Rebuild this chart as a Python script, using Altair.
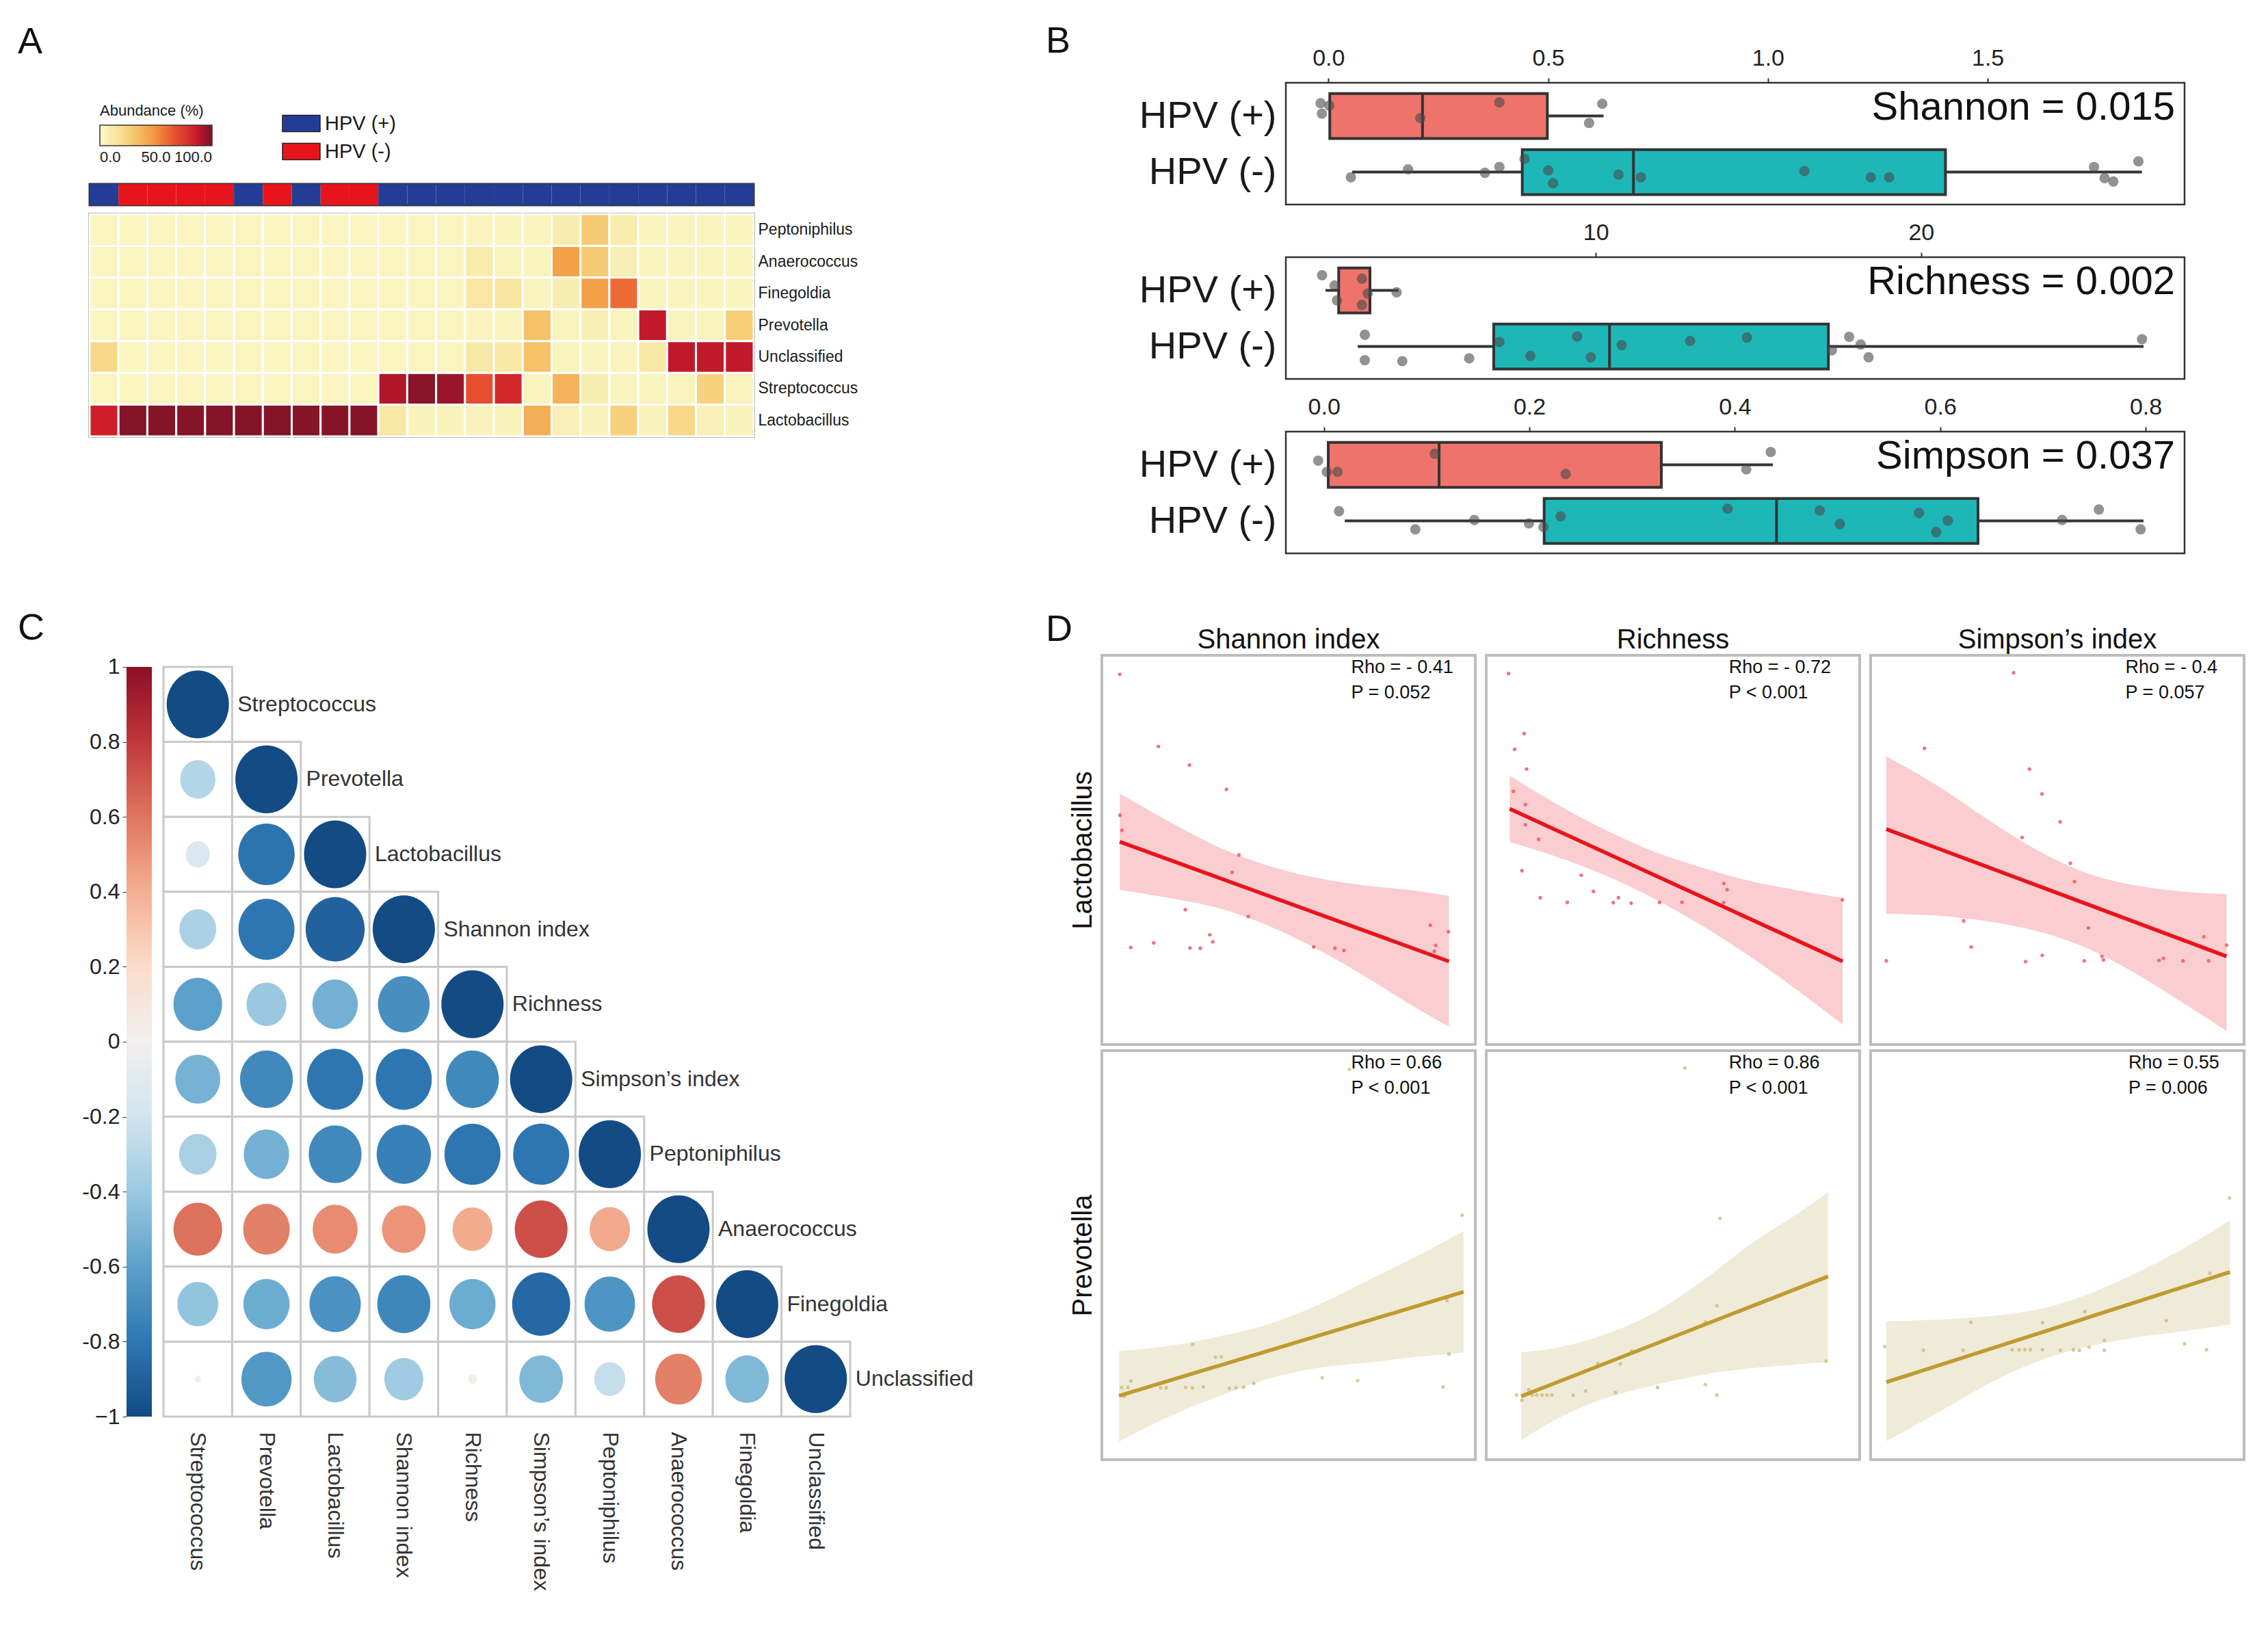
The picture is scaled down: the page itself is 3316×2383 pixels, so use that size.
import altair as alt
import pandas as pd

FONT = "Liberation Sans"
TXT = "#1a1a1a"

# ---------------- Panel A data ----------------
genera_A = ["Peptoniphilus", "Anaerococcus", "Finegoldia", "Prevotella",
            "Unclassified", "Streptococcus", "Lactobacillus"]
samples_A = ["S%02d" % (i + 1) for i in range(23)]
hpv_A = ["HPV (+)", "HPV (-)", "HPV (-)", "HPV (-)", "HPV (-)", "HPV (+)", "HPV (-)",
         "HPV (+)", "HPV (-)", "HPV (-)"] + ["HPV (+)"] * 13
pept_A = [3, 3, 3, 3, 3, 3, 3, 3, 3, 3, 3, 3, 3, 4, 4, 4, 9, 28, 9, 4, 4, 4, 4]
anaer_A = [3, 3, 3, 3, 3, 3, 3, 3, 3, 3, 3, 3, 3, 10, 4, 4, 45, 28, 7, 4, 4, 4, 4]
fine_A = [3, 3, 3, 3, 3, 3, 3, 3, 3, 3, 3, 3, 3, 13, 14, 4, 8, 45, 60, 4, 4, 4, 4]
prev_A = [3, 3, 3, 3, 3, 3, 3, 3, 3, 3, 3, 3, 3, 4, 4, 32, 4, 7, 4, 87, 4, 4, 27]
uncl_A = [22, 3, 3, 3, 3, 3, 3, 3, 3, 3, 3, 3, 3, 12, 12, 32, 4, 4, 4, 12, 87, 87, 87]
strep_A = [3, 3, 3, 3, 3, 3, 3, 3, 3, 3, 90, 97, 94, 68, 82, 4, 38, 8, 4, 4, 4, 25, 4]
lacto_A = [84, 98, 98, 98, 98, 98, 98, 98, 98, 98, 12, 5, 5, 5, 5, 40, 6, 5, 25, 5, 22, 6, 5]
abund_A = [pept_A, anaer_A, fine_A, prev_A, uncl_A, strep_A, lacto_A]

# ---------------- Panel B data ----------------
# stats: [lower whisker, q1, median, q3, upper whisker]
sh_pos_stats = [0.003, 0.003, 0.214, 0.498, 0.626]
sh_neg_stats = [0.054, 0.441, 0.694, 1.404, 1.851]
sh_pos_x = [-0.018, -0.015, 0.002, 0.209, 0.389, 0.593, 0.623]
sh_pos_j = [0.230, 0.044, 0.187, -0.037, 0.243, -0.124, 0.218]
sh_neg_x = [0.051, 0.181, 0.356, 0.389, 0.446, 0.500, 0.511, 0.660, 0.711, 1.083,
            1.234, 1.276, 1.742, 1.766, 1.786, 1.843]
sh_neg_j = [-0.093, 0.050, -0.012, 0.093, 0.236, 0.031, -0.199, -0.044, -0.093, 0.019,
            -0.093, -0.093, 0.093, -0.106, -0.168, 0.193]

ri_pos_stats = [1.689, 2.094, 3.055, 3.055, 3.932]
ri_neg_stats = [2.68, 6.86, 10.42, 17.15, 26.84]
ri_pos_x = [1.583, 1.968, 2.04, 2.809, 2.986, 2.809, 3.875]
ri_pos_j = [0.271, 0.088, -0.177, 0.210, -0.055, -0.259, -0.034]
ri_neg_x = [2.898, 2.898, 4.049, 6.106, 7.035, 7.987, 9.425, 9.845, 10.796, 12.898,
            14.646, 17.257, 17.788, 18.142, 18.385, 26.792]
ri_neg_j = [0.211, -0.243, -0.261, -0.211, 0.081, -0.168, 0.180, -0.193, 0.025, 0.100,
            0.162, -0.068, 0.174, 0.037, -0.193, 0.131]

si_pos_stats = [0.0042, 0.0042, 0.1121, 0.3285, 0.4371]
si_neg_stats = [0.0203, 0.2144, 0.4406, 0.6368, 0.7979]
si_pos_x = [-0.0056, 0.0028, 0.0133, 0.1079, 0.2354, 0.4112, 0.4350]
si_pos_j = [0.075, -0.124, -0.124, 0.199, -0.162, -0.081, 0.230]
si_neg_x = [0.0147, 0.0890, 0.1464, 0.1996, 0.2137, 0.2305, 0.3930, 0.4827, 0.5023,
            0.5793, 0.5961, 0.6074, 0.7187, 0.7545, 0.7951]
si_neg_j = [0.174, -0.149, 0.019, -0.044, -0.106, 0.081, 0.218, 0.187, -0.056, 0.143,
            -0.199, 0.006, 0.019, 0.205, -0.149]

# ---------------- Panel C data ----------------
vars_C = ["Streptococcus", "Prevotella", "Lactobacillus", "Shannon index", "Richness",
          "Simpson\u2019s index", "Peptoniphilus", "Anaerococcus", "Finegoldia", "Unclassified"]
corr_C = [
    [1],
    [0.32, 1],
    [0.15, 0.82, 1],
    [0.35, 0.81, 0.90, 1],
    [0.61, 0.41, 0.53, 0.69, 1],
    [0.52, 0.72, 0.81, 0.81, 0.72, 1],
    [0.36, 0.53, 0.72, 0.76, 0.81, 0.81, 1],
    [-0.61, -0.56, -0.52, -0.49, -0.41, -0.72, -0.42, 1],
    [0.43, 0.55, 0.68, 0.73, 0.55, 0.87, 0.66, -0.72, 1],
    [0.01, 0.65, 0.47, 0.39, -0.02, 0.49, 0.25, -0.56, 0.49, 1],
]
cbar_ticks = [-1, -0.8, -0.6, -0.4, -0.2, 0, 0.2, 0.4, 0.6, 0.8, 1]

# ---------------- Panel D data (relative units) ----------------
LS_x = [4.87, 15.4, 23.87, 33.93, 4.93, 5.47, 37.33, 35.47, 22.73, 39.87, 29.4, 30.2, 14.13,
        7.87, 24.0, 26.8, 57.67, 63.47, 65.93, 89.47, 94.4, 90.93, 90.53]
LS_y = [97.4, 78.4, 73.53, 67.13, 60.33, 56.33, 49.87, 45.27, 35.47, 33.67, 28.87, 27.0, 26.73,
        25.53, 25.4, 25.33, 25.67, 25.33, 24.73, 31.4, 29.67, 26.07, 24.53]
LS_bx = [4.87, 18.53, 31.87, 45.2, 58.53, 71.87, 85.2, 94.53]
LS_lo = [40.67, 38.53, 35.87, 31.33, 25.13, 17.8, 9.8, 4.67]
LS_hi = [66.0, 58.53, 51.87, 47.07, 43.8, 41.8, 40.47, 39.07]
LS_lx = [4.87, 94.53]
LS_ly = [53.33, 21.87]

LR_x = [6.07, 10.33, 7.73, 11.0, 7.4, 10.67, 10.67, 14.27, 9.73, 25.87, 29.2, 14.73, 22.07,
        34.6, 36.0, 39.47, 47.2, 53.33, 64.73, 65.6, 64.67, 97.0]
LR_y = [97.6, 81.8, 77.67, 72.47, 66.6, 63.13, 57.8, 54.0, 45.73, 44.53, 40.27, 38.6, 37.4,
        37.33, 38.6, 37.2, 37.4, 37.4, 42.4, 40.73, 37.33, 38.07]
LR_bx = [6.4, 18.53, 31.87, 45.2, 58.53, 71.87, 85.2, 97.07]
LR_lo = [53.27, 49.6, 44.73, 38.67, 31.4, 23.13, 13.93, 5.2]
LR_hi = [70.73, 63.6, 56.73, 50.93, 46.6, 43.0, 40.47, 38.53]
LR_lx = [6.4, 97.07]
LR_ly = [62.0, 21.87]

LP_x = [38.93, 14.67, 43.27, 46.67, 51.6, 41.27, 54.4, 55.53, 25.33, 59.33, 27.4, 4.27, 42.2,
        46.73, 58.2, 63.0, 63.4, 78.53, 79.73, 85.07, 90.73, 92.07, 96.93]
LP_y = [97.8, 77.93, 72.47, 65.93, 58.6, 54.47, 47.67, 42.87, 32.53, 30.67, 25.67, 22.0, 21.8,
        23.47, 22.0, 23.2, 22.27, 22.13, 22.67, 22.0, 28.33, 22.0, 26.13]
LP_bx = [4.27, 18.53, 31.87, 45.2, 58.53, 71.87, 85.2, 96.93]
LP_lo = [34.4, 33.87, 32.4, 29.87, 25.53, 18.87, 10.87, 3.53]
LP_hi = [75.87, 67.87, 59.2, 51.2, 45.2, 41.87, 40.2, 39.53]
LP_lx = [4.27, 96.93]
LP_ly = [56.67, 23.2]

PS_x = [67.4, 98.13, 94.0, 94.53, 24.73, 31.0, 32.53, 7.87, 5.4, 7.07, 6.07, 16.0, 17.53,
        22.8, 24.67, 27.67, 34.73, 36.53, 38.6, 41.4, 60.0, 69.67, 92.93]
PS_y = [97.73, 61.2, 39.87, 26.47, 28.87, 25.67, 25.73, 19.67, 18.07, 18.07, 15.87, 18.0, 18.0,
        18.07, 18.0, 18.2, 17.87, 18.0, 18.13, 19.13, 20.53, 19.8, 18.2]
PS_bx = [4.67, 18.53, 31.87, 45.2, 58.53, 71.87, 85.2, 98.53]
PS_lo = [4.53, 10.87, 15.87, 20.2, 22.93, 24.27, 25.67, 26.8]
PS_hi = [27.2, 28.53, 30.87, 33.87, 38.6, 44.6, 50.67, 57.2]
PS_lx = [4.67, 98.53]
PS_ly = [16.0, 42.0]

PR_x = [54.07, 63.67, 62.8, 92.53, 30.4, 36.53, 39.6, 59.73, 8.2, 9.73, 11.53, 12.53, 13.73,
        15.2, 16.53, 17.87, 23.67, 27.07, 35.2, 46.67, 59.67, 62.8]
PR_y = [98.07, 60.4, 38.53, 24.67, 24.07, 24.0, 27.2, 34.53, 16.2, 14.87, 17.53, 16.2, 16.2,
        16.2, 16.2, 16.2, 16.13, 17.2, 16.8, 18.07, 18.8, 16.2]
PR_bx = [9.53, 18.53, 31.87, 45.2, 58.53, 71.87, 85.2, 93.07]
PR_lo = [4.87, 9.87, 15.2, 18.53, 21.2, 22.87, 23.87, 24.53]
PR_hi = [26.87, 27.87, 31.2, 36.53, 44.53, 53.87, 61.87, 66.87]
PR_lx = [9.53, 93.07]
PR_ly = [15.87, 45.87]

PP_x = [73.73, 97.73, 92.4, 58.33, 27.27, 46.8, 80.53, 63.67, 3.87, 14.4, 25.2, 38.53, 40.4,
        42.0, 43.53, 46.8, 51.67, 55.2, 56.87, 59.47, 63.67, 85.53, 91.47]
PP_y = [97.73, 65.53, 46.67, 37.07, 34.4, 34.33, 34.8, 29.87, 28.33, 27.4, 27.4, 27.53, 27.53,
        27.53, 27.53, 27.53, 27.4, 27.53, 27.4, 28.2, 27.4, 29.0, 27.53]
PP_bx = [4.27, 18.53, 31.87, 45.2, 58.53, 71.87, 85.2, 97.87]
PP_lo = [4.67, 11.87, 18.87, 24.53, 28.2, 30.53, 32.2, 33.87]
PP_hi = [34.67, 35.07, 35.87, 37.53, 41.2, 46.53, 52.87, 59.87]
PP_lx = [4.27, 97.87]
PP_ly = [19.4, 47.0]

rho_text = ["Rho = - 0.41", "Rho = - 0.72", "Rho = - 0.4", "Rho = 0.66", "Rho = 0.86", "Rho = 0.55"]
p_text = ["P = 0.052", "P < 0.001", "P = 0.057", "P < 0.001", "P < 0.001", "P = 0.006"]
text_x = [67.9, 66.07, 69.4, 67.9, 66.07, 70.2]
col_titles_D = ["Shannon index", "Richness", "Simpson\u2019s index"]
row_titles_D = ["Lactobacillus", "Prevotella"]

RES = dict(x="independent", y="independent", color="independent", fill="independent", size="independent")


def spacer(w, h):
    return alt.Chart(pd.DataFrame({"z": [0]})).mark_point(opacity=0).encode(
        x=alt.X("z:Q", axis=None), y=alt.Y("z:Q", axis=None)).properties(width=w, height=h)


def letter(t, dx, offset, dy=0):
    return alt.TitleParams(t, anchor="start", frame="group", dx=dx, dy=dy, offset=offset,
                           fontSize=54, fontWeight="normal", color="#111", font=FONT)


# ================= Panel A =================
rows = []
for g, vals in zip(genera_A, abund_A):
    for s, v in zip(samples_A, vals):
        rows.append({"genus": g, "sample": s, "abundance": v})
heat_df = pd.DataFrame(rows)
annot_df = pd.DataFrame({"sample": samples_A, "status": hpv_A})

RECT = "M-2,-0.88L2,-0.88L2,0.88L-2,0.88Z"

annot = alt.Chart(annot_df).mark_rect().encode(
    x=alt.X("sample:N", sort=samples_A, axis=None),
    color=alt.Color("status:N",
                    scale=alt.Scale(domain=["HPV (+)", "HPV (-)"], range=["#233D96", "#E8141B"]),
                    legend=alt.Legend(title=None, orient="none", legendX=295, legendY=-103,
                                      symbolType=RECT, symbolSize=756, symbolStrokeColor="#222",
                                      symbolStrokeWidth=1.5, symbolOpacity=1, labelFontSize=29,
                                      labelOffset=20, rowPadding=10, labelColor=TXT, padding=0)),
).properties(width=971, height=31, view=alt.ViewBackground(stroke="#333", strokeWidth=3))

heat = alt.Chart(heat_df).mark_rect(stroke="white", strokeWidth=3).encode(
    x=alt.X("sample:N", sort=samples_A, axis=None),
    y=alt.Y("genus:N", sort=genera_A,
            axis=alt.Axis(orient="right", title=None, ticks=False, domain=False, labelFontSize=23,
                          labelPadding=6, labelColor=TXT, labelLimit=400)),
    color=alt.Color("abundance:Q",
                    scale=alt.Scale(domain=[0, 20, 45, 65, 85, 100],
                                    range=["#FBF8CB", "#F8DC8C", "#F4A24A", "#EA5530", "#CC1B29", "#7A1427"]),
                    legend=alt.Legend(title="Abundance (%)", orient="none", legendX=15, legendY=-161,
                                      direction="horizontal", gradientLength=164, gradientThickness=30,
                                      values=[0, 50, 100], format=".1f", labelFontSize=22,
                                      titleFontSize=22, titleFontWeight="normal", titleColor=TXT,
                                      labelColor=TXT, gradientStrokeColor="#333", labelOffset=7,
                                      gradientStrokeWidth=1.5, titlePadding=9, padding=0)),
).properties(width=971, height=325, view=alt.ViewBackground(stroke="#444", strokeWidth=3.5))

A_block = alt.vconcat(spacer(971, 135), annot, heat, spacing=13, bounds="flush",
                      title=letter("A", -105, 32)).resolve_scale(**RES)


# ================= Panel B =================
def box_panel(sp, sn, px, pj, nx, nj, xdom, ticks, fmt, label):
    box_df = pd.DataFrame({
        "status": ["HPV (+)", "HPV (-)"], "grp": [1, 0],
        "lo": [sp[0], sn[0]], "q1": [sp[1], sn[1]], "med": [sp[2], sn[2]],
        "q3": [sp[3], sn[3]], "hi": [sp[4], sn[4]]})
    pts_df = pd.DataFrame({"v": px + nx, "grp": [1] * len(px) + [0] * len(nx), "jit": pj + nj})
    xs = alt.Scale(domain=xdom, nice=False, zero=False)
    ys = alt.Scale(domain=[-0.578, 1.593], nice=False, zero=False)
    xax = alt.Axis(orient="top", values=ticks, format=fmt, labelFontSize=34, tickSize=7, tickWidth=2,
                   tickColor="#333", domain=False, grid=False, title=None, labelPadding=12,
                   labelColor="#222")
    yax = alt.Axis(values=[0, 1], labelExpr="datum.value > 0.5 ? 'HPV (+)' : 'HPV (-)'",
                   labelFontSize=56, ticks=False, domain=False, grid=False, title=None,
                   labelPadding=14, labelColor=TXT, labelLimit=400)
    base = alt.Chart(box_df).transform_calculate(ylo="datum.grp - 0.402", yhi="datum.grp + 0.402")
    whisk = base.mark_rule(color="#333", strokeWidth=4).encode(
        x=alt.X("lo:Q", scale=xs, axis=xax, title=None), x2="hi:Q",
        y=alt.Y("grp:Q", scale=ys, axis=yax, title=None))
    box = base.mark_rect(stroke="#333", strokeWidth=4).encode(
        x=alt.X("q1:Q", title=None), x2="q3:Q", y=alt.Y("ylo:Q", title=None), y2="yhi:Q",
        fill=alt.Fill("status:N", scale=alt.Scale(domain=["HPV (+)", "HPV (-)"],
                                                  range=["#EE736B", "#1DB7B8"]), legend=None))
    med = base.mark_rule(color="#333", strokeWidth=4).encode(
        x=alt.X("med:Q", title=None), y=alt.Y("ylo:Q", title=None), y2="yhi:Q")
    pts = alt.Chart(pts_df).transform_calculate(yy="datum.grp + datum.jit").mark_circle(
        size=230, color="#4a4a4a", opacity=0.6).encode(
        x=alt.X("v:Q", title=None), y=alt.Y("yy:Q", title=None))
    txt = alt.Chart(pd.DataFrame({"label": [label]})).mark_text(
        align="right", baseline="middle", fontSize=58, dx=-14, dy=-12, color="#111").encode(
        x=alt.datum(xdom[1]), y=alt.datum(1), text="label:N")
    return alt.layer(whisk, box, med, pts, txt).properties(
        width=1314, height=178, view=alt.ViewBackground(stroke="#333", strokeWidth=2.5))


pB1 = box_panel(sh_pos_stats, sh_neg_stats, sh_pos_x, sh_pos_j, sh_neg_x, sh_neg_j,
                [-0.097, 1.948], [0, 0.5, 1.0, 1.5], ".1f", "Shannon = 0.015")
pB2 = box_panel(ri_pos_stats, ri_neg_stats, ri_pos_x, ri_pos_j, ri_neg_x, ri_neg_j,
                [0.469, 28.10], [10, 20], "d", "Richness = 0.002")
pB3 = box_panel(si_pos_stats, si_neg_stats, si_pos_x, si_pos_j, si_neg_x, si_neg_j,
                [-0.0371, 0.8379], [0, 0.2, 0.4, 0.6, 0.8], ".1f", "Simpson = 0.037")

B_block = alt.vconcat(pB1, pB2, pB3, spacing=77, bounds="flush",
                      title=letter("B", -351, -21, 0)).resolve_scale(**RES)

# ================= Panel C =================
crow = []
for i, row in enumerate(corr_C):
    for j, r in enumerate(row):
        crow.append({"row": vars_C[i], "col": vars_C[j], "r": r})
corr_df = pd.DataFrame(crow)
diag_df = pd.DataFrame({"row": vars_C, "col": vars_C})

C_H = 1113          # view height incl. a 17 px free strip on top
ELL = "M0,-1.09A1,1.09,0,1,1,0,1.09A1,1.09,0,1,1,0,-1.09Z"
xsc = alt.X("col:N", sort=vars_C, scale=alt.Scale(paddingInner=0, paddingOuter=0),
            axis=alt.Axis(orient="bottom", labelAngle=90, labelAlign="left", labelBaseline="middle",
                          labelFontSize=32, ticks=False, domain=False, labelPadding=22, title=None,
                          labelColor="#333", labelLimit=500))
ysc = alt.Y("row:N", sort=vars_C,
            scale=alt.Scale(paddingInner=0, paddingOuter=0.0776, align=1), axis=None)

cells = alt.Chart(corr_df).mark_rect(fill="white", stroke="#C9C9C9", strokeWidth=3).encode(x=xsc, y=ysc)
circ = alt.Chart(corr_df).transform_calculate(absr="abs(datum.r)").mark_point(
    filled=True, shape=ELL, opacity=1, strokeWidth=0).encode(
    x=alt.X("col:N", sort=vars_C), y=alt.Y("row:N", sort=vars_C),
    size=alt.Size("absr:Q", scale=alt.Scale(domain=[0, 1], range=[0, 8281]), legend=None),
    color=alt.Color("r:Q", scale=alt.Scale(scheme="redblue", domain=[-1, 1]), legend=None))
diag = alt.Chart(diag_df).mark_text(align="left", baseline="middle", dx=58, fontSize=32,
                                    color="#333").encode(
    x=alt.X("col:N", sort=vars_C), y=alt.Y("row:N", sort=vars_C), text="col:N")
matrix = alt.layer(cells, circ, diag).properties(width=1004, height=C_H)

cbar = alt.Chart(alt.sequence(-1, 1, 0.01, as_="v")).transform_calculate(
    v2="min(datum.v + 0.014, 1)").mark_rect().encode(
    y=alt.Y("v:Q", scale=alt.Scale(domain=[-1, 1.031], nice=False, zero=False),
            axis=alt.Axis(values=cbar_ticks, labelFontSize=32, tickSize=6, tickColor="#333",
                          domain=False, grid=False, title=None, labelPadding=4, labelColor="#222",
                          labelExpr="datum.value <= -0.999 ? '\u22121' : (datum.value >= 0.999 ? '1' : (abs(datum.value) < 0.001 ? '0' : replace(format(datum.value, '.1f'), '\u2212', '-')))")),
    y2="v2:Q",
    color=alt.Color("v:Q", scale=alt.Scale(scheme="redblue", domain=[-1, 1], reverse=True), legend=None),
).properties(width=37, height=C_H)

C_block = alt.hconcat(spacer(37, 1), cbar, matrix, spacing=17, bounds="flush",
                      title=letter("C", -105, 9)).resolve_scale(**RES)


# ================= Panel D =================
def d_cell(k, px, py, bx, blo, bhi, lx, ly, lacto, height, ctitle=None, rtitle=None):
    if lacto:
        pc, bc, lc = "#F0646A", "#EE5A62", "#E8141B"
    else:
        pc, bc, lc = "#D6C48D", "#CDB97D", "#BF9B30"
    xs = alt.Scale(domain=[0, 101.7], nice=False, zero=False)
    ys = alt.Scale(domain=[0, 102.4], nice=False, zero=False)
    if rtitle:
        yax = alt.Axis(title=rtitle, labels=False, ticks=False, domain=False, grid=False,
                       titleFontSize=40, titleFontWeight="normal", titlePadding=8, titleColor="#111")
    else:
        yax = None
    pts = alt.Chart(pd.DataFrame({"x": px, "y": py})).mark_circle(size=28, color=pc, opacity=0.9).encode(
        x=alt.X("x:Q", scale=xs, axis=None), y=alt.Y("y:Q", scale=ys, axis=yax))
    band = alt.Chart(pd.DataFrame({"x": bx, "lo": blo, "hi": bhi})).mark_area(
        interpolate="monotone", color=bc, opacity=0.3).encode(
        x=alt.X("x:Q"), y=alt.Y("lo:Q"), y2="hi:Q")
    line = alt.Chart(pd.DataFrame({"x": lx, "y": ly})).mark_line(color=lc, strokeWidth=5.5).encode(
        x=alt.X("x:Q"), y=alt.Y("y:Q"))
    t1 = alt.Chart(pd.DataFrame({"t": [rho_text[k]]})).mark_text(
        align="left", baseline="middle", fontSize=27, dy=18, color="#111").encode(
        x=alt.datum(text_x[k]), y=alt.datum(102.4), text="t:N")
    t2 = alt.Chart(pd.DataFrame({"t": [p_text[k]]})).mark_text(
        align="left", baseline="middle", fontSize=27, dy=55, color="#111").encode(
        x=alt.datum(text_x[k]), y=alt.datum(102.4), text="t:N")
    props = dict(width=546, height=height, view=alt.ViewBackground(stroke="#BDBDBD", strokeWidth=4))
    if ctitle:
        props["title"] = alt.TitleParams(ctitle, fontSize=40, fontWeight="normal", offset=2,
                                         color="#111", anchor="middle")
    return alt.layer(pts, band, line, t1, t2).properties(**props)


r1 = alt.hconcat(
    d_cell(0, LS_x, LS_y, LS_bx, LS_lo, LS_hi, LS_lx, LS_ly, True, 569, col_titles_D[0], row_titles_D[0]),
    d_cell(1, LR_x, LR_y, LR_bx, LR_lo, LR_hi, LR_lx, LR_ly, True, 569, col_titles_D[1]),
    d_cell(2, LP_x, LP_y, LP_bx, LP_lo, LP_hi, LP_lx, LP_ly, True, 569, col_titles_D[2]),
    spacing=16, bounds="flush").resolve_scale(**RES)
r2 = alt.hconcat(
    d_cell(3, PS_x, PS_y, PS_bx, PS_lo, PS_hi, PS_lx, PS_ly, False, 598, None, row_titles_D[1]),
    d_cell(4, PR_x, PR_y, PR_bx, PR_lo, PR_hi, PR_lx, PR_ly, False, 598),
    d_cell(5, PP_x, PP_y, PP_bx, PP_lo, PP_hi, PP_lx, PP_ly, False, 598),
    spacing=16, bounds="flush").resolve_scale(**RES)
D_block = alt.vconcat(r1, r2, spacing=5, title=letter("D", -82, 0, 34)).resolve_scale(**RES)

# ================= assemble =================
top_row = alt.hconcat(A_block, B_block, spacing=273).resolve_scale(**RES)
bottom_row = alt.hconcat(C_block, D_block, spacing=105).resolve_scale(**RES)

chart = alt.vconcat(top_row, bottom_row, spacing=81).resolve_scale(**RES).properties(
    padding={"left": 18, "top": 25, "right": 5, "bottom": 5}, background="white"
).configure(font=FONT).configure_view(stroke="transparent")

chart.save("out.html", embed_options={"renderer": "svg", "actions": False})
